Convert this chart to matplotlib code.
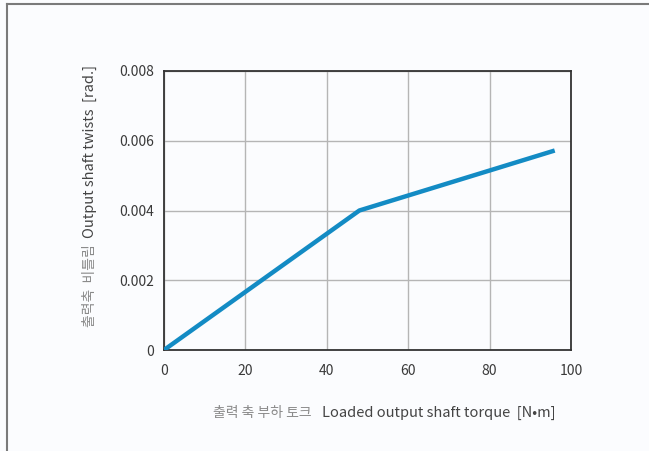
import matplotlib.pyplot as plt
from matplotlib.lines import Line2D

plt.rcParams['font.family'] = ['Noto Sans CJK KR', 'DejaVu Sans']

# torque [N·m] vs output shaft twist [rad.]
torque = [0, 48, 96]
twist = [0.0, 0.0040, 0.00572]

x_ticks = [0, 20, 40, 60, 80, 100]
y_ticks = [0, 0.002, 0.004, 0.006, 0.008]
y_tick_labels = ['0', '0.002', '0.004', '0.006', '0.008']

bg = '#fbfcfe'
fig = plt.figure(figsize=(6.49, 4.51), dpi=100, facecolor=bg)
ax = fig.add_axes([164 / 649, 1 - 350 / 451, 407 / 649, 279 / 451])
ax.set_facecolor(bg)

ax.plot(torque, twist, color='#138bc4', lw=3.2, solid_capstyle='butt', zorder=3)

ax.set_xlim(0, 100)
ax.set_ylim(0, 0.008)
ax.set_xticks(x_ticks)
ax.set_yticks(y_ticks)
ax.set_yticklabels(y_tick_labels)
ax.grid(True, color='#b5b5b5', lw=1)
ax.tick_params(length=0, labelsize=10, colors='#3a3a3a')
ax.tick_params(axis='x', pad=10)
ax.tick_params(axis='y', pad=7)
for s in ax.spines.values():
    s.set_color('#333333')
    s.set_linewidth(1.3)

# axis titles: Korean part in light gray, English part darker
fig.text(312 / 649, 1 - 413 / 451, '출력 축 부하 토크', ha='right', va='center',
         fontsize=10, color='#8a8a8a')
fig.text(322 / 649, 1 - 413 / 451, 'Loaded output shaft torque  [N•m]', ha='left',
         va='center', fontsize=10.5, color='#444444')
fig.text(90 / 649, 1 - 244 / 451, '출력축  비틀림', ha='center', va='top',
         rotation=90, fontsize=10, color='#8a8a8a')
fig.text(90 / 649, 1 - 238 / 451, 'Output shaft twists  [rad.]', ha='center',
         va='bottom', rotation=90, fontsize=10.5, color='#444444')

# outer frame: left and top edges only
fig.add_artist(Line2D([7 / 649, 7 / 649], [0, 1 - 4 / 451], color='#7a7a7a', lw=1.5))
fig.add_artist(Line2D([7 / 649, 1], [1 - 4 / 451, 1 - 4 / 451], color='#7a7a7a', lw=1.5))

fig.savefig('out.png', dpi=100, facecolor=bg)
